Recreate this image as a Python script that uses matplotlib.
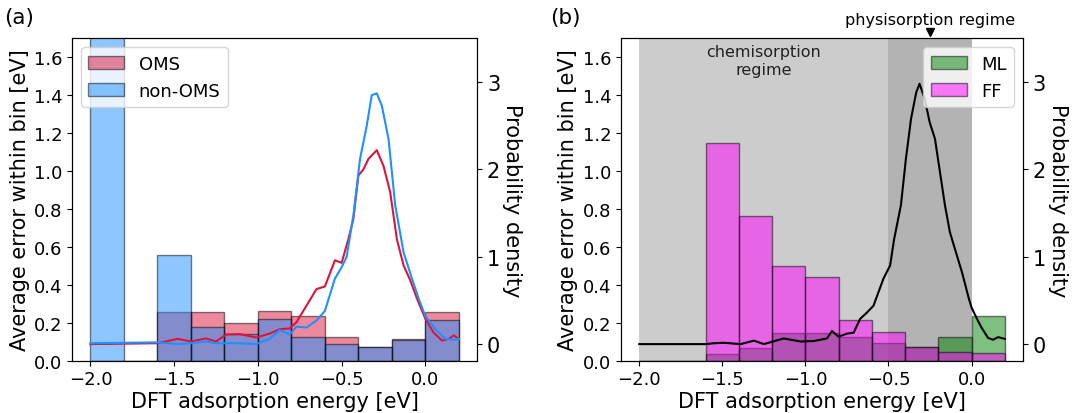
import matplotlib
matplotlib.use("Agg")
import matplotlib.pyplot as plt
import numpy as np

# histogram bins (width 0.2 eV)
bin_edges = [-2.0, -1.8, -1.6, -1.4, -1.2, -1.0, -0.8, -0.6, -0.4, -0.2, 0.0, 0.2]

# panel (a): average error per bin
oms_err = [0.0, 0.0, 0.259, 0.259, 0.201, 0.263, 0.234, 0.125, 0.074, 0.116, 0.259]
non_oms_err = [2.2, 0.0, 0.560, 0.178, 0.143, 0.218, 0.125, 0.086, 0.074, 0.109, 0.217]

# panel (a): density curves
oms_kde_x = [-2.0, -1.6, -1.55, -1.48, -1.4, -1.31, -1.25, -1.19, -1.11, -1.01, -0.93,
             -0.87, -0.81, -0.77, -0.71, -0.65, -0.6, -0.54, -0.5, -0.46, -0.43, -0.4,
             -0.37, -0.34, -0.29, -0.25, -0.21, -0.17, -0.13, -0.09, -0.05, 0.0, 0.05,
             0.1, 0.14, 0.17, 0.2]
oms_kde_y = [0.0, 0.01, 0.03, 0.06, 0.03, 0.065, 0.03, 0.11, 0.115, 0.076, 0.12,
             0.17, 0.18, 0.25, 0.44, 0.63, 0.66, 0.96, 0.93, 1.2, 1.43, 1.93,
             2.0, 2.12, 2.22, 2.04, 1.74, 1.2, 0.9, 0.73, 0.52, 0.29, 0.13,
             0.04, 0.06, 0.1, 0.06]
non_oms_kde_x = [-2.0, -1.6, -1.48, -1.4, -1.31, -1.25, -1.19, -1.11, -1.01, -0.93, -0.87,
                 -0.81, -0.77, -0.71, -0.65, -0.6, -0.54, -0.5, -0.47, -0.43, -0.39, -0.35,
                 -0.32, -0.29, -0.26, -0.22, -0.18, -0.13, -0.08, -0.04, 0.0, 0.06, 0.12,
                 0.17, 0.2]
non_oms_kde_y = [0.01, 0.02, 0.0, 0.01, 0.03, 0.01, 0.01, 0.01, 0.0, 0.06, 0.16,
                 0.11, 0.2, 0.19, 0.27, 0.38, 0.75, 0.88, 1.0, 1.47, 2.12, 2.5,
                 2.85, 2.87, 2.73, 2.35, 1.59, 1.05, 0.75, 0.52, 0.32, 0.17, 0.06,
                 0.05, 0.06]

# panel (b): average error per bin
ml_err = [0.0, 0.0, 0.037, 0.065, 0.144, 0.144, 0.127, 0.095, 0.072, 0.123, 0.238]
ff_err = [0.0, 0.0, 1.147, 0.763, 0.499, 0.444, 0.217, 0.152, 0.072, 0.046, 0.041]

# panel (b): density curve
all_kde_x = [-2.0, -1.6, -1.55, -1.49, -1.39, -1.31, -1.25, -1.13, -1.03, -0.95, -0.87,
             -0.84, -0.8, -0.75, -0.71, -0.67, -0.63, -0.59, -0.53, -0.49, -0.466, -0.425,
             -0.395, -0.364, -0.333, -0.313, -0.282, -0.252, -0.22, -0.19, -0.16, -0.13,
             -0.1, -0.057, -0.016, 0.0, 0.03, 0.06, 0.1, 0.13, 0.16, 0.2]
all_kde_y = [0.0, 0.0, 0.01, 0.015, 0.0, 0.04, 0.0, 0.065, 0.03, 0.035, 0.065,
             0.15, 0.085, 0.12, 0.13, 0.29, 0.36, 0.44, 0.75, 0.9, 1.2, 1.59,
             2.12, 2.58, 2.88, 2.98, 2.81, 2.54, 2.35, 1.97, 1.59, 1.28,
             1.09, 0.82, 0.52, 0.42, 0.3, 0.19, 0.07, 0.05, 0.08, 0.06]

plt.rcParams['font.size'] = 13

left = np.array(bin_edges[:-1])
width = np.diff(bin_edges)

fig = plt.figure(figsize=(10.72, 4.14), dpi=100)
ax_a = fig.add_axes([0.0672, 0.1263, 0.378, 0.7787])
ax_b = fig.add_axes([0.5793, 0.1263, 0.3750, 0.7787])


def setup_axes(ax, ax2):
    ax.set_ylim(0, 1.7)
    ax.set_xlim(-2.11, 0.31)
    ax.set_xticks([-2.0, -1.5, -1.0, -0.5, 0.0])
    ax.set_yticks(np.arange(0, 1.61, 0.2))
    ax.tick_params(labelsize=13)
    ax.set_xlabel("DFT adsorption energy [eV]", fontsize=15, labelpad=2)
    ax.set_ylabel("Average error within bin [eV]", fontsize=15, labelpad=3)
    ax2.set_ylim(-0.19, 3.5)
    ax2.set_yticks([0, 1, 2, 3])
    ax2.tick_params(labelsize=15)
    ax2.set_ylabel("Probability density", fontsize=15, rotation=270, labelpad=16)


# (a)
ax2_a = ax_a.twinx()
h1 = ax_a.bar(left, oms_err, width=width, align='edge', color='crimson',
              alpha=0.5, edgecolor='k', linewidth=1, label='OMS')
h2 = ax_a.bar(left, non_oms_err, width=width, align='edge', color='dodgerblue',
              alpha=0.5, edgecolor='k', linewidth=1, label='non-OMS')
ax2_a.plot(oms_kde_x, oms_kde_y, color='crimson', lw=1.5)
ax2_a.plot(non_oms_kde_x, non_oms_kde_y, color='dodgerblue', lw=1.5)
setup_axes(ax_a, ax2_a)
ax2_a.legend([h1, h2], ['OMS', 'non-OMS'], loc='upper left', fontsize=13)

# (b)
ax2_b = ax_b.twinx()
ax_b.axvspan(-2.0, -0.5, color='#cccccc', lw=0, zorder=0)
ax_b.axvspan(-0.5, 0.0, color='#b3b3b3', lw=0, zorder=0)
h3 = ax_b.bar(left, ml_err, width=width, align='edge', color='green',
              alpha=0.5, edgecolor='k', linewidth=1, label='ML')
h4 = ax_b.bar(left, ff_err, width=width, align='edge', color='magenta',
              alpha=0.5, edgecolor='k', linewidth=1, label='FF')
ax2_b.plot(all_kde_x, all_kde_y, color='k', lw=1.5)
setup_axes(ax_b, ax2_b)
ax2_b.legend([h3, h4], ['ML', 'FF'], loc='upper right', fontsize=13)

ax_b.text(-1.25, 1.585, "chemisorption\nregime", ha='center', va='center',
          fontsize=11.5, color='#222222', linespacing=1.25)
ax_b.text(-0.25, 1.76, "physisorption regime", ha='center', va='bottom',
          fontsize=11.5, color='k')
ax_b.plot([-0.25], [1.735], marker='v', color='k', markersize=6, clip_on=False)

fig.text(0.004, 0.957, "(a)", fontsize=15.5, va='center', ha='left')
fig.text(0.513, 0.957, "(b)", fontsize=15.5, va='center', ha='left')

fig.savefig("out.png", dpi=100)
